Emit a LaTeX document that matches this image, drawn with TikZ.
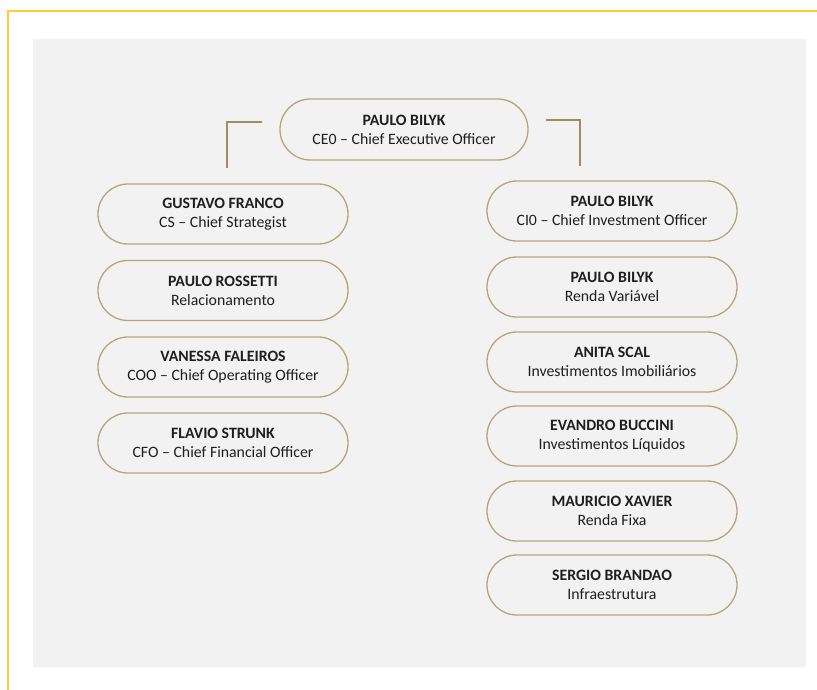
\documentclass[tikz,border=0pt]{standalone}
\usepackage{fontspec}
\setmainfont{Carlito}
\definecolor{gold}{HTML}{B5A67A}
\definecolor{linegold}{HTML}{9C8E5E}
\definecolor{bg}{HTML}{F2F2F2}
\definecolor{frame}{HTML}{FFCC33}
\begin{document}
\begin{tikzpicture}[x=1pt,y=-1pt,
  person/.style={rectangle, rounded corners=29.9pt, draw=gold, line width=1.3pt, fill=bg,
    minimum width=250pt, minimum height=60pt, align=center, inner sep=0pt,
    font=\fontsize{15.8}{19}\selectfont, text=black!88},
  conn/.style={draw=linegold, line width=2.2pt}]
\useasboundingbox (0,0) rectangle (817,689);
\fill[white] (0,0) rectangle (817,689);
\draw[frame, line width=1.6pt] (8,695) -- (8,11) -- (825,11);
\fill[bg] (33,39) rectangle (806,667);
\node[person, minimum width=248pt, minimum height=61pt, rounded corners=30.4pt] (ceo) at (404,129.5) {\textbf{PAULO BILYK}\\CE0 – Chief Executive Officer};
\node[person] (l1) at (223,214) {\textbf{GUSTAVO FRANCO}\\CS – Chief Strategist};
\node[person] (l2) at (223,290.5) {\textbf{PAULO ROSSETTI}\\Relacionamento};
\node[person] (l3) at (223,367) {\textbf{VANESSA FALEIROS}\\COO – Chief Operating Officer};
\node[person] (l4) at (223,443) {\textbf{FLAVIO STRUNK}\\CFO – Chief Financial Officer};
\node[person] (r1) at (612,211) {\textbf{PAULO BILYK}\\CI0 – Chief Investment Officer};
\node[person] (r2) at (612,287) {\textbf{PAULO BILYK}\\Renda Variável};
\node[person] (r3) at (612,362) {\textbf{ANITA SCAL}\\Investimentos Imobiliários};
\node[person] (r4) at (612,436) {\textbf{EVANDRO BUCCINI}\\Investimentos Líquidos};
\node[person] (r5) at (612,511) {\textbf{MAURICIO XAVIER}\\Renda Fixa};
\node[person] (r6) at (612,585) {\textbf{SERGIO BRANDAO}\\Infraestrutura};
\coordinate (la) at (262,122);
\coordinate (lb) at (227,168);
\coordinate (ra) at (546,120);
\coordinate (rb) at (580,166);
\draw[conn] (la) -| (lb);
\draw[conn] (ra) -| (rb);
\end{tikzpicture}
\end{document}
